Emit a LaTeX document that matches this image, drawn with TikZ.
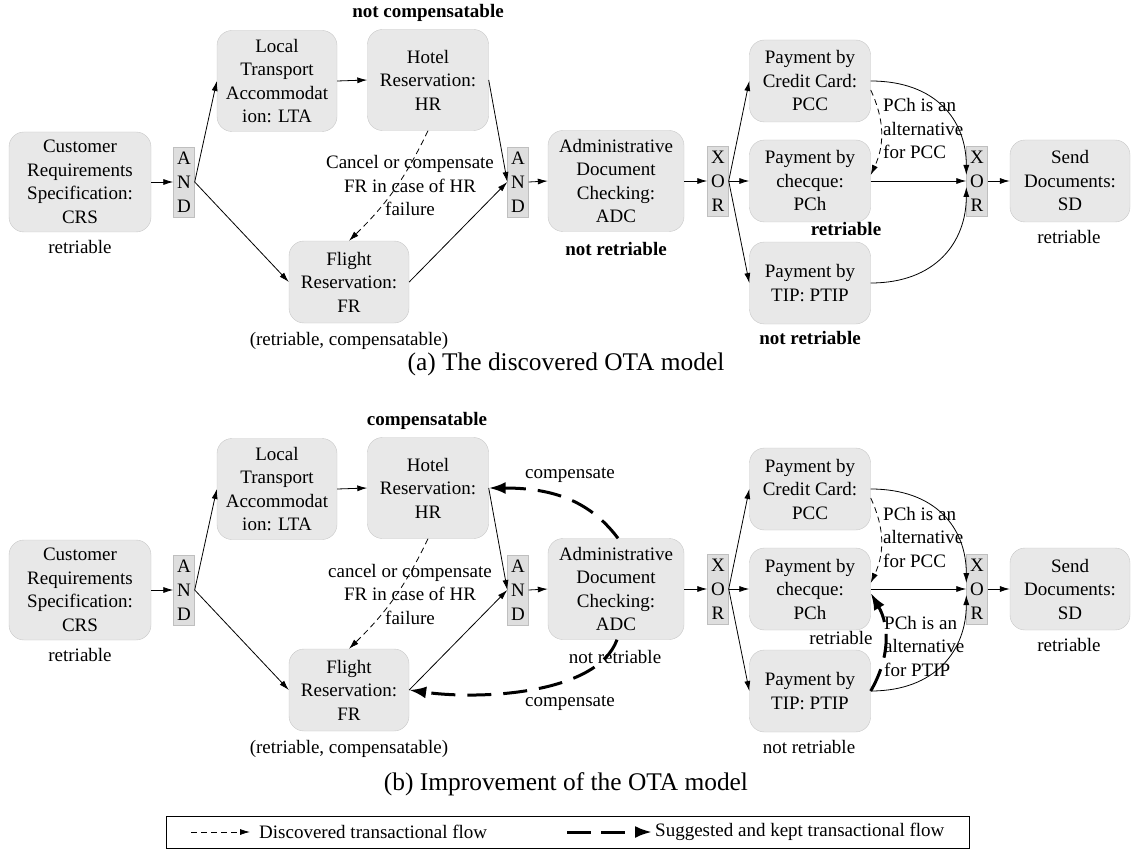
\documentclass[tikz,border=0pt]{standalone}
\usepackage{fontspec}
\setmainfont{Liberation Serif}
\usetikzlibrary{arrows.meta,shapes}
\tikzstyle{activity}=[rectangle,rounded corners=15pt,draw=black!22,fill=black!9,align=center,inner sep=0pt]
\tikzstyle{gate}=[rectangle,draw=black!25,fill=black!13,minimum width=21pt,minimum height=70pt,inner sep=0pt,align=center,font=\fontsize{19pt}{24pt}\selectfont]
\tikzstyle{flow}=[draw,line width=0.8pt,-{Latex[length=10pt,width=6pt]}]
\tikzstyle{found}=[flow,dash pattern=on 6pt off 4pt]
\tikzstyle{kept}=[draw,line width=3pt,dash pattern=on 24pt off 12pt,-{Latex[length=17pt,width=12pt]}]
\tikzstyle{prop}=[inner sep=0pt,align=center]
\tikzstyle{subcap}=[inner sep=0pt,font=\fontsize{25.4pt}{30pt}\selectfont]

\begin{document}
\begin{tikzpicture}[x=1pt,y=-1pt,font=\fontsize{19pt}{23.5pt}\selectfont]
    \useasboundingbox (0,0) rectangle (1131,850);
    % Both panels share the same OTA model
    \foreach \p/\dy in {a/0,b/408}{
    \begin{scope}[yshift=-\dy pt]
        % First we draw the activities
        \foreach \pos/\name/\w/\h/\txt in {{(80,182)/crs/142/100/Customer\\Requirements\\Specification:\\CRS},
            {(277,81)/lta/120/101/Local\\Transport\\Accommodat\\ion: LTA},
            {(428,80)/hr/121/101/Hotel\\Reservation:\\HR},
            {(349,282)/fr/120/82/Flight\\Reservation:\\FR},
            {(616,181)/adc/136/101/Administrative\\Document\\Checking:\\ADC},
            {(810,81)/pcc/121/82/Payment by\\Credit Card:\\PCC},
            {(810,181)/pch/121/82/Payment by\\checque:\\PCh},
            {(810,283)/ptip/121/82/Payment by\\TIP: PTIP},
            {(1070,181)/sd/120/82/Send\\Documents:\\SD}}
            \node[activity,minimum width=\w pt,minimum height=\h pt] (\p\name) at \pos {\txt};
        % then the gates
        \foreach \pos/\name/\txt in {{(184,182)/and1/A\\N\\D},{(518,182)/and2/A\\N\\D},{(718,181)/xor1/X\\O\\R},{(977,181)/xor2/X\\O\\R}}
            \node[gate] (\p\name) at \pos {\txt};
        % Connect them with the control flow
        \foreach \s/\d in {crs/and1,and1/lta,and1/fr,lta/hr,hr/and2,fr/and2,and2/adc,adc/xor1,xor1/pcc,xor1/pch,xor1/ptip,pch/xor2,xor2/sd}
            \path[flow] (\p\s.east) -- (\p\d.west);
        \path[flow] (\p pcc.east) .. controls +(65,0) and +(0,-55) .. ([yshift=6pt]\p xor2.west);
        \path[flow] (\p ptip.east) .. controls +(65,0) and +(0,55) .. ([yshift=-6pt]\p xor2.west);
        % discovered transactional flow
        \path[found] (\p hr.south) to[bend left=10] (\p fr.north);
        \path[found] ([yshift=-9pt]\p pcc.east) to[bend left=25] ([yshift=6pt]\p pch.east);
        \node[prop] (\p crsl) at (80,247) {retriable};
        \node[prop] (\p frl) at (349,341) {(retriable, compensatable)};
        \node[prop] (\p sdl) at (1069,237) {retriable};
        \node[prop,align=left,anchor=west] (\p alt) at (883,129) {PCh is an\\alternative\\for PCC};
    \end{scope}
    }
    % (a) the discovered model
    \node[prop] (ahrl) at (428,13) {\bfseries not compensatable};
    \node[prop] (acanc) at (410,186) {Cancel or compensate\\FR in case of HR\\failure};
    \node[prop] (aadcl) at (616,249) {\bfseries not retriable};
    \node[prop] (apchl) at (846,229) {\bfseries retriable};
    \node[prop] (aptipl) at (810,338) {\bfseries not retriable};
    \node[subcap] (capa) at (566,364) {(a) The discovered OTA model};
    % (b) the improvement
    \node[prop] (bhrl) at (427,421) {\bfseries compensatable};
    \node[prop] (bcanc) at (410,594) {cancel or compensate\\FR in case of HR\\failure};
    \node[prop] (badcl) at (615,657) {not retriable};
    \node[prop] (bpchl) at (841,638) {retriable};
    \node[prop] (bptipl) at (809,747) {not retriable};
    \node[prop] (comp1) at (570,475) {compensate};
    \node[prop] (comp2) at (570,703) {compensate};
    \node[prop,align=left,anchor=west] (balt2) at (884,646) {PCh is an\\alternative\\for PTIP};
    \path[kept] ([xshift=2pt]badc.north) .. controls +(-30,-40) and +(60,0) .. (bhr.east);
    \path[kept] ([xshift=1pt]badc.south) .. controls +(-20,55) and +(70,10) .. (bfr.east);
    \path[kept] (bptip.east) to[bend right=30] ([yshift=-4pt]bpch.east);
    \node[subcap] (capb) at (566,784) {(b) Improvement of the OTA model};
    % Legend
    \draw[line width=0.8pt] (166,816) rectangle (969,848);
    \coordinate (lg1s) at (191,832);
    \coordinate (lg1e) at (250,832);
    \coordinate (lg2s) at (567,832);
    \coordinate (lg2e) at (652,832);
    \path[found] (lg1s) -- (lg1e);
    \path[kept,dash pattern=on 24pt off 10pt] (lg2s) -- (lg2e);
    \node[prop,anchor=west] (lg1t) at (259,832) {Discovered transactional flow};
    \node[prop,anchor=west] (lg2t) at (655,832) {Suggested and kept transactional flow};
\end{tikzpicture}
\end{document}
